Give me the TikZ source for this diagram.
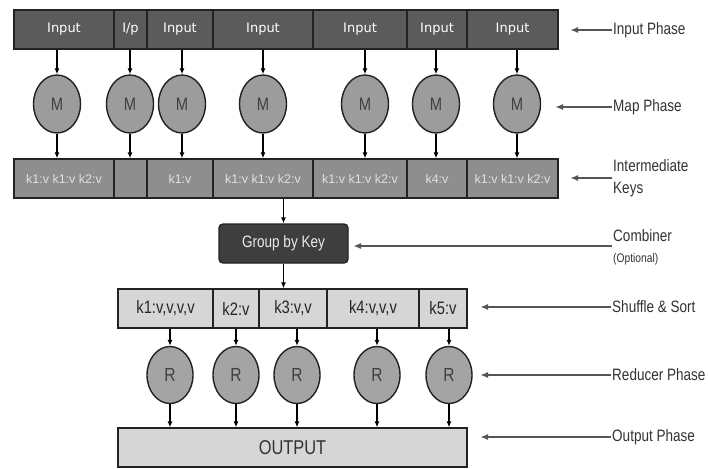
\documentclass[tikz,border=0pt]{standalone}
\usepackage{fontspec}
\setmainfont{Liberation Sans}
\newfontfamily\narrow[FakeStretch=0.82]{Liberation Sans}
\newfontfamily\dejavu{DejaVu Sans}
\usetikzlibrary{arrows.meta,shapes.geometric}
\definecolor{inputfill}{HTML}{5B5B5B}
\definecolor{midfill}{HTML}{8E8E8E}
\definecolor{mapfill}{HTML}{9C9C9C}
\definecolor{groupfill}{HTML}{3E3E3E}
\definecolor{lightfill}{HTML}{D6D6D6}
\definecolor{redfill}{HTML}{A4A4A4}
\definecolor{edge}{HTML}{222222}
\definecolor{labgray}{HTML}{333333}
\definecolor{arrgray}{HTML}{555555}
\tikzset{
  cellbase/.style={draw=edge, line width=1.4pt, inner sep=0pt, minimum height=39pt},
  inbox/.style={cellbase, fill=inputfill, text=white, font=\dejavu\fontsize{13}{15}\selectfont},
  midbox/.style={cellbase, fill=midfill, text=white!88!black, font=\fontsize{12.5}{14}\selectfont},
  shbox/.style={cellbase, fill=lightfill, text=black!85, font=\narrow\fontsize{18}{20}\selectfont},
  mapnode/.style={ellipse, draw=edge, line width=1.4pt, fill=mapfill, inner sep=0pt,
    minimum width=47pt, minimum height=58pt, text=black!75, font=\narrow\fontsize{18}{20}\selectfont},
  rednode/.style={ellipse, draw=edge, line width=1.4pt, fill=redfill, inner sep=0pt,
    minimum width=46pt, minimum height=57pt, text=black!75, font=\narrow\fontsize{19}{21}\selectfont},
  groupbox/.style={draw=edge, line width=1.4pt, fill=groupfill, rounded corners=4pt, text=white!92!black,
    minimum width=129pt, minimum height=39pt, inner sep=0pt, font=\narrow\fontsize{16.5}{18}\selectfont},
  outbox/.style={cellbase, fill=lightfill, text=black!80, minimum width=349pt, font=\narrow\fontsize{20}{22}\selectfont},
  arr/.style={-{Latex[length=6pt,width=5pt]}, line width=1.1pt, draw=black},
  larr/.style={-{Latex[length=8pt,width=6pt]}, line width=1.7pt, draw=arrgray},
  lab/.style={anchor=west, inner sep=1pt, text=labgray, font=\narrow\fontsize{16.5}{19}\selectfont, align=left},
}
\begin{document}
\begin{tikzpicture}[x=1pt,y=-1pt]
\useasboundingbox (0,0) rectangle (708,468);
\fill[white] (0,0) rectangle (708,468);
% Input row
\node[inbox, minimum width=100pt] (i1) at (64,29.5) {Input};
\node[inbox, minimum width=33pt] (i2) at (130.5,29.5) {I/p};
\node[inbox, minimum width=66pt] (i3) at (180,29.5) {Input};
\node[inbox, minimum width=100pt] (i4) at (263,29.5) {Input};
\node[inbox, minimum width=94pt] (i5) at (360,29.5) {Input};
\node[inbox, minimum width=60pt] (i6) at (437,29.5) {Input};
\node[inbox, minimum width=91pt] (i7) at (512.5,29.5) {Input};
% Map nodes
\node[mapnode] (m1) at (57,104) {M};
\node[mapnode] (m2) at (130,104) {M};
\node[mapnode] (m3) at (182,104) {M};
\node[mapnode] (m4) at (263,104) {M};
\node[mapnode] (m5) at (365,104) {M};
\node[mapnode] (m6) at (436,104) {M};
\node[mapnode] (m7) at (517,104) {M};
% Intermediate row
\node[midbox, minimum width=100pt] (k1) at (64,178.5) {k1:v k1:v k2:v};
\node[midbox, minimum width=33pt] (k2) at (130.5,178.5) {};
\node[midbox, minimum width=66pt] (k3) at (180,178.5) {k1:v};
\node[midbox, minimum width=100pt] (k4) at (263,178.5) {k1:v k1:v k2:v};
\node[midbox, minimum width=94pt] (k5) at (360,178.5) {k1:v k1:v k2:v};
\node[midbox, minimum width=60pt] (k6) at (437,178.5) {k4:v};
\node[midbox, minimum width=91pt] (k7) at (512.5,178.5) {k1:v k1:v k2:v};
% arrows input -> map -> intermediate
\foreach \i/\m/\k in {i1/m1/k1,i2/m2/k2,i3/m3/k3,i4/m4/k4,i5/m5/k5,i6/m6/k6,i7/m7/k7}{
  \draw[arr] (\m |- \i.south) -- (\m.north);
  \draw[arr] (\m.south) -- (\m |- \k.north);
}
% Group by key
\node[groupbox] (g) at (283.5,243.5) {Group by Key};
\draw[arr] (g.north |- k4.south) -- (g.north);
% Shuffle row
\node[shbox, minimum width=95pt] (s1) at (165.5,308.5) {k1:v,v,v,v};
\node[shbox, minimum width=46pt] (s2) at (236,308.5) {k2:v};
\node[shbox, minimum width=68pt] (s3) at (293,308.5) {k3:v,v};
\node[shbox, minimum width=92pt] (s4) at (373,308.5) {k4:v,v,v};
\node[shbox, minimum width=48pt] (s5) at (443,308.5) {k5:v};
\draw[arr] (g.south) -- (g.south |- s3.north);
% Reducers
\node[rednode] (r1) at (170,375) {R};
\node[rednode] (r2) at (236,375) {R};
\node[rednode] (r3) at (297,375) {R};
\node[rednode] (r4) at (377,375) {R};
\node[rednode] (r5) at (449,375) {R};
% Output
\node[outbox] (o) at (292.5,447.5) {OUTPUT};
\foreach \s/\r in {s1/r1,s2/r2,s3/r3,s4/r4,s5/r5}{
  \draw[arr] (\r |- \s.south) -- (\r.north);
  \draw[arr] (\r.south) -- (\r |- o.north);
}
% Phase labels
\node[lab] (l1) at (612,30) {Input Phase};
\coordinate (a1) at (570,30);
\draw[larr] (l1.west) -- (a1);
\node[lab] (l2) at (612,107) {Map Phase};
\coordinate (a2) at (555,107);
\draw[larr] (l2.west) -- (a2);
\node[lab, font=\narrow\fontsize{16.5}{22}\selectfont] (l3) at (612,178) {Intermediate\\Keys};
\coordinate (a3) at (570,178);
\draw[larr] (l3.west) -- (a3);
\node[lab] (l4) at (612,236) {Combiner};
\node[lab, font=\narrow\fontsize{12.5}{14}\selectfont] (l4b) at (612,259) {(Optional)};
\coordinate (a4p) at (612,246);
\coordinate (a4) at (353,246);
\draw[larr] (a4p) -- (a4);
\node[lab] (l5) at (611,307) {Shuffle \& Sort};
\coordinate (a5) at (480,307);
\draw[larr] (l5.west) -- (a5);
\node[lab] (l6) at (611,375) {Reducer Phase};
\coordinate (a6) at (480,375);
\draw[larr] (l6.west) -- (a6);
\node[lab] (l7) at (611,437) {Output Phase};
\coordinate (a7) at (480,437);
\draw[larr] (l7.west) -- (a7);
\end{tikzpicture}
\end{document}
